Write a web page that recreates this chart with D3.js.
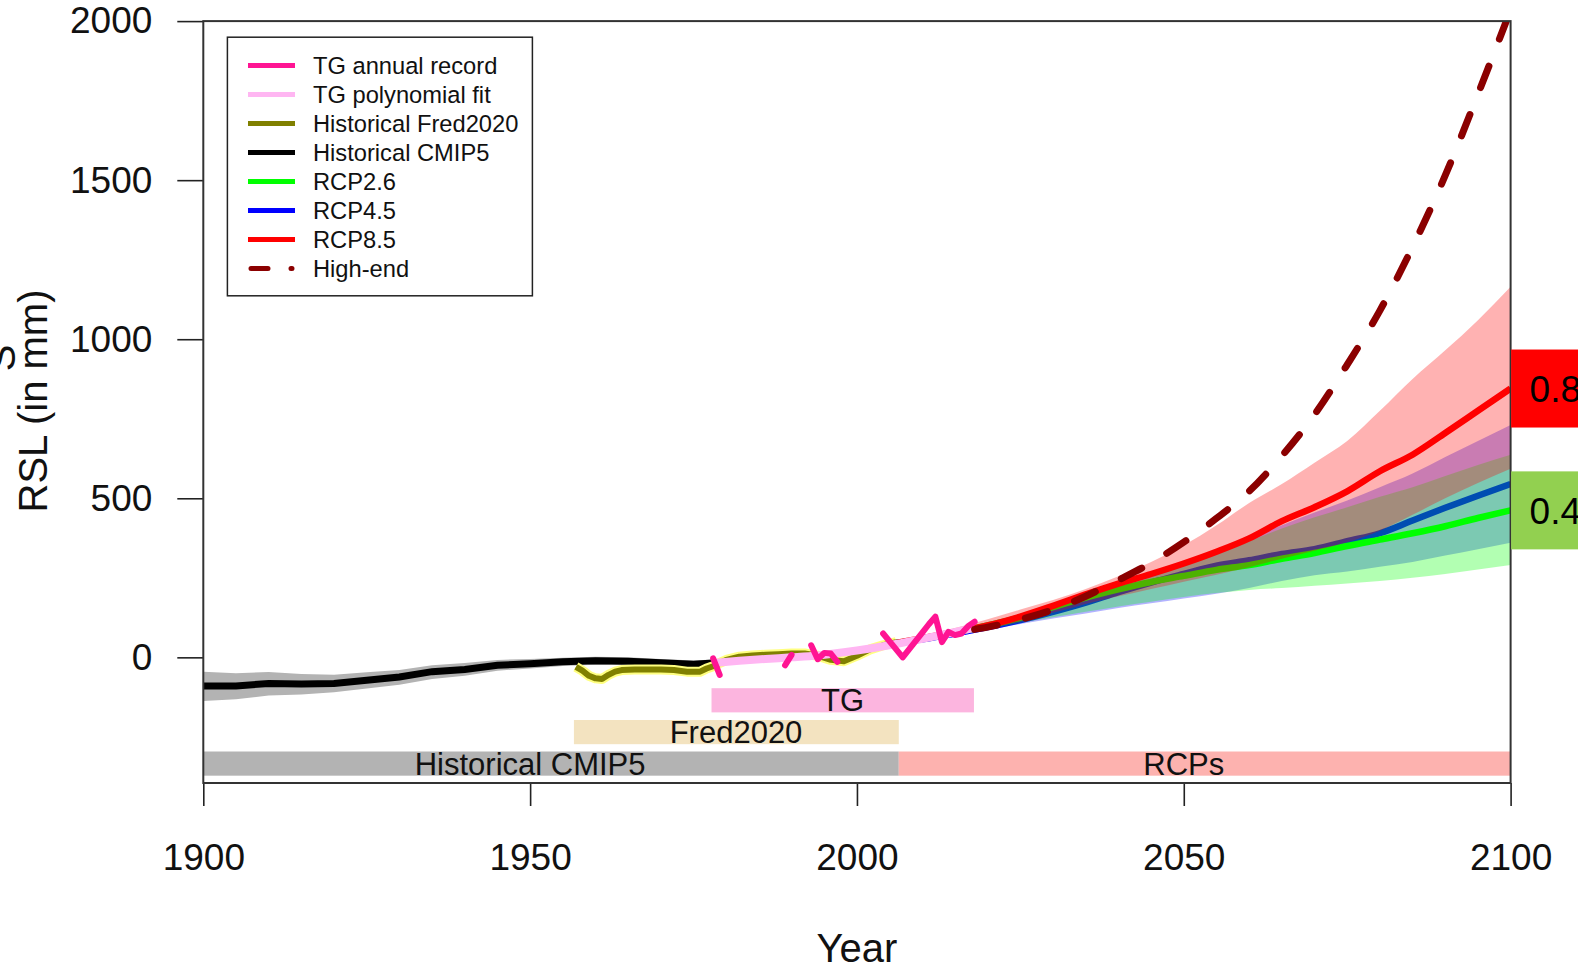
<!DOCTYPE html>
<html><head><meta charset="utf-8">
<script src="https://cdn.jsdelivr.net/npm/d3@7"></script>
<style>
html,body{margin:0;padding:0;background:#fff;overflow:hidden;}
svg{display:block;font-family:"Liberation Sans",Arial,sans-serif;}
</style></head><body>
<svg id="chart" width="1578" height="972"></svg>
<script>
// ---------- DATA ----------
const xTicks = [1900, 1950, 2000, 2050, 2100];
const yTicks = [0, 500, 1000, 1500, 2000];

const cmipYears  = [1900,1905,1910,1915,1920,1925,1930,1935,1940,1945,1950,1955,1960,1965,1970,1975,1978];
const cmipMedian = [-90,-90,-82,-84,-82,-72,-62,-45,-38,-25,-20,-14,-11,-12,-17,-22,-18];
const cmipLower  = [-137,-132,-120,-117,-110,-98,-86,-68,-58,-42,-35,-27,-23,-24,-29,-33,-29];
const cmipUpper  = [-45,-50,-46,-52,-55,-47,-40,-25,-18,-8,-5,-1,2,0,-5,-10,-7];
const cmipTailYears  = [1978,1985,1990,1995,2000,2006];
const cmipTailValues = [-18,-8,0,8,18,38];

const fredYears  = [1957,1958,1959,1960,1961,1962,1963,1964,1966,1968,1970,1972,1974,1976,1977,1978,1979,1980,1982,1984,1986,1988,1990,1992,1994,1996,1998,2000,2002,2004,2006];
const fredValues = [-30,-42,-58,-66,-68,-55,-45,-40,-38,-38,-38,-40,-45,-45,-35,-28,-18,-8,2,6,8,10,12,12,5,-8,-12,5,25,38,48];

const fitYears  = [1978,1982,1986,1990,1994,1998,2002,2006,2010,2014,2018];
const fitValues = [-18,-11,-5,0,6,16,28,42,58,75,93];

const tgYears  = [1978,1979,1980,1988,1989,1990,1991,1992,1993,1994,1995,1996,1997,1998,2003,2004,2005,2006,2007,2008,2009,2010,2011,2012,2013,2014,2015,2016,2017,2018];
const tgValues = [-3,-55,null,null,-25,8,null,null,38,-6,14,12,-14,null,null,75,50,25,0,26,52,78,104,128,48,80,70,75,98,112];

const rcpYears = [2006,2010,2015,2020,2025,2030,2035,2040,2045,2050,2055,2060,2065,2070,2075,2080,2085,2090,2095,2100];
const rcp26Median = [45,58,78,100,125,158,188,214,237,256,275,290,310,328,350,370,390,412,438,462];
const rcp26Upper  = [47,60,80,102,130,165,195,228,258,292,327,365,405,440,472,505,535,570,605,637];
const rcp26Lower  = [42,52,68,88,108,126,143,160,175,190,202,212,218,225,232,240,250,262,276,290];
const rcp45Median = [45,57,75,95,117,143,172,205,235,262,288,305,325,340,365,390,430,470,508,545];
const rcp45Upper  = [48,62,82,105,130,160,192,228,262,298,335,375,415,455,493,535,578,630,680,730];
const rcp45Lower  = [40,50,65,85,105,122,138,155,170,185,200,218,240,258,270,285,300,320,340,360];
const rcp85Median = [45,60,80,100,128,162,198,232,262,295,332,374,428,472,522,585,637,705,775,845];
const rcp85Upper  = [50,68,92,120,150,180,215,255,300,352,415,485,545,612,680,775,875,965,1060,1165];
const rcp85Lower  = [40,52,70,90,112,140,168,192,215,238,260,283,310,335,362,398,448,500,548,593];

const highEndYears  = [2018,2020,2025,2030,2035,2040,2045,2050,2055,2060,2065,2070,2075,2080,2085,2090,2095,2100];
const highEndValues = [88,95,119,150,192,243,297,362,437,522,633,763,920,1090,1290,1515,1770,2035];

const barLabels    = ["TG","Fred2020","Historical CMIP5","RCPs"];
const barStart     = [1977.75,1956.7,1900,2006.4];
const barEnd       = [2017.9,2006.4,2006.4,2100];
const barLow       = [-173,-273,-372,-372];
const barHigh      = [-97,-197,-296,-296];
const barLabelYear = [1997.8,1981.5,1950,2050];

const legendLabels = ["TG annual record","TG polynomial fit","Historical Fred2020","Historical CMIP5","RCP2.6","RCP4.5","RCP8.5","High-end"];
const endLabels = ["0.84","0.46"];

// ---------- STYLES ----------
const barColors = ["#FCB5DF","#F3E3C0","#B3B3B3","#FDB2AF"];
const legendColors = ["#FF1493","#FFB6F2","#808000","#000000","#00FF00","#0000FF","#FF0000","#8B0000"];
const endColors = ["#FF0000","#92D050"];

// ---------- SCALES ----------
const svg = d3.select("#chart");
const x = d3.scaleLinear().domain([1900,2100]).range([203.3,1510.6]);
const y = d3.scaleLinear().domain([-395,2000]).range([783,21.1]);

svg.append("defs").append("clipPath").attr("id","plotclip")
  .append("rect").attr("x",x(1900)).attr("y",y(2000))
  .attr("width",x(2100)-x(1900)).attr("height",y(-395)-y(2000));

const g = svg.append("g").attr("clip-path","url(#plotclip)");

// bars
barLabels.forEach((lab,i)=>{
  g.append("rect").attr("x",x(barStart[i])).attr("y",y(barHigh[i]))
    .attr("width",x(barEnd[i])-x(barStart[i])).attr("height",y(barLow[i])-y(barHigh[i]))
    .attr("fill",barColors[i]);
});
barLabels.forEach((lab,i)=>{
  g.append("text").attr("x",x(barLabelYear[i])).attr("y",(y(barLow[i])+y(barHigh[i]))/2)
    .attr("dy","0.36em").attr("text-anchor","middle").attr("font-size",31).attr("fill","#111").text(lab);
});

const lineXY = (xs,vs,curve)=>d3.line().defined(i=>vs[i]!==null)
  .x(i=>x(xs[i])).y(i=>y(vs[i])).curve(curve||d3.curveLinear)(d3.range(xs.length));
const areaXY = (xs,lo,hi,curve)=>d3.area().x(i=>x(xs[i])).y0(i=>y(lo[i])).y1(i=>y(hi[i]))
  .curve(curve||d3.curveLinear)(d3.range(xs.length));

// CMIP5 historical
g.append("path").attr("d",areaXY(cmipYears,cmipLower,cmipUpper)).attr("fill","#B3B3B3");
g.append("path").attr("d",lineXY(cmipYears,cmipMedian)).attr("fill","none").attr("stroke","#000").attr("stroke-width",7);
g.append("path").attr("d",lineXY(cmipTailYears,cmipTailValues)).attr("fill","none").attr("stroke","#000").attr("stroke-width",2);

// Fred2020
g.append("path").attr("d",lineXY(fredYears,fredValues)).attr("fill","none").attr("stroke","#FFFF80").attr("stroke-width",10).attr("stroke-linejoin","round");
g.append("path").attr("d",lineXY(fredYears,fredValues)).attr("fill","none").attr("stroke","#808000").attr("stroke-width",6).attr("stroke-linejoin","round");

// RCPs: blue band, blue line, green band, green line, red band, red line
const mc = d3.curveMonotoneX;
g.append("path").attr("d",areaXY(rcpYears,rcp45Lower,rcp45Upper,mc)).attr("fill","rgba(0,0,255,0.3)");
g.append("path").attr("d",lineXY(rcpYears,rcp45Median,mc)).attr("fill","none").attr("stroke","#0000FF").attr("stroke-width",6.5);
g.append("path").attr("d",areaXY(rcpYears,rcp26Lower,rcp26Upper,mc)).attr("fill","rgba(0,255,0,0.3)");
g.append("path").attr("d",lineXY(rcpYears,rcp26Median,mc)).attr("fill","none").attr("stroke","#00FF00").attr("stroke-width",6.5);
g.append("path").attr("d",areaXY(rcpYears,rcp85Lower,rcp85Upper,mc)).attr("fill","rgba(255,0,0,0.3)");
g.append("path").attr("d",lineXY(rcpYears,rcp85Median,mc)).attr("fill","none").attr("stroke","#FF0000").attr("stroke-width",6.5);

// TG fit and record
g.append("path").attr("d",lineXY(fitYears,fitValues,mc)).attr("fill","none").attr("stroke","#FFB6F2").attr("stroke-width",8);
g.append("path").attr("d",lineXY(tgYears,tgValues)).attr("fill","none").attr("stroke","#FF1493").attr("stroke-width",6)
  .attr("stroke-linejoin","round").attr("stroke-linecap","round");

// High-end
g.append("path").attr("d",lineXY(highEndYears,highEndValues,mc)).attr("fill","none").attr("stroke","#8B0000")
  .attr("stroke-width",7).attr("stroke-dasharray","23,29").attr("stroke-linecap","round");

// ---------- AXES ----------
const xAxis = svg.append("g").attr("transform",`translate(0,${y(-395)})`)
  .call(d3.axisBottom(x).tickValues(xTicks).tickFormat(d3.format("d")).tickSize(23).tickPadding(38));
xAxis.select(".domain").remove();
xAxis.selectAll("line").attr("stroke","#222").attr("stroke-width",1.6);
xAxis.selectAll("text").attr("font-size",37).attr("fill","#111").attr("font-family","Liberation Sans, Arial, sans-serif");

const yAxis = svg.append("g").attr("transform",`translate(${x(1900)},0)`)
  .call(d3.axisLeft(y).tickValues(yTicks).tickFormat(d3.format("d")).tickSize(26).tickPadding(25));
yAxis.select(".domain").remove();
yAxis.selectAll("line").attr("stroke","#222").attr("stroke-width",1.6);
yAxis.selectAll("text").attr("font-size",37).attr("fill","#111").attr("font-family","Liberation Sans, Arial, sans-serif");

// box
svg.append("rect").attr("x",x(1900)).attr("y",y(2000)).attr("width",x(2100)-x(1900)).attr("height",y(-395)-y(2000))
  .attr("fill","none").attr("stroke","#333").attr("stroke-width",2);

// axis titles
svg.append("text").attr("x",(x(1900)+x(2100))/2).attr("y",962).attr("text-anchor","middle")
  .attr("font-size",40).attr("fill","#111").text("Year");
svg.append("text").attr("transform",`translate(47,401) rotate(-90)`).attr("text-anchor","middle")
  .attr("font-size",40).attr("fill","#111").text("RSL (in mm)");
svg.append("text").attr("transform",`translate(15,358) rotate(-90)`).attr("text-anchor","middle")
  .attr("font-size",40).attr("fill","#111").text("S");

// ---------- LEGEND ----------
const lg = svg.append("g");
lg.append("rect").attr("x",227.4).attr("y",37.2).attr("width",305).attr("height",258.6)
  .attr("fill","#fff").attr("stroke","#222").attr("stroke-width",1.5);
legendLabels.forEach((lab,i)=>{
  const yy = 65.5 + i*29.0;
  const ln = lg.append("line").attr("x1",252).attr("x2",291).attr("y1",yy).attr("y2",yy)
    .attr("stroke",legendColors[i]).attr("stroke-width",5);
  if (i===7) ln.attr("x1",251).attr("x2",292).attr("stroke-dasharray","17,23").attr("stroke-linecap","round");
  else ln.attr("stroke-linecap","butt").attr("x1",248).attr("x2",295);
  lg.append("text").attr("x",313).attr("y",yy).attr("dy","0.36em").attr("font-size",23.7).attr("fill","#111").text(lab);
});

// ---------- END LABELS ----------
const endVals = [rcp85Median[rcp85Median.length-1], rcp26Median[rcp26Median.length-1]];
endLabels.forEach((lab,i)=>{
  const cy = y(endVals[i]);
  svg.append("rect").attr("x",x(2100)+0.5).attr("y",cy-39).attr("width",120).attr("height",78).attr("fill",endColors[i]);
  svg.append("text").attr("x",x(2100)+19).attr("y",cy).attr("dy","0.36em").attr("font-size",37).attr("fill","#000").text(lab);
});
</script>
</body></html>
